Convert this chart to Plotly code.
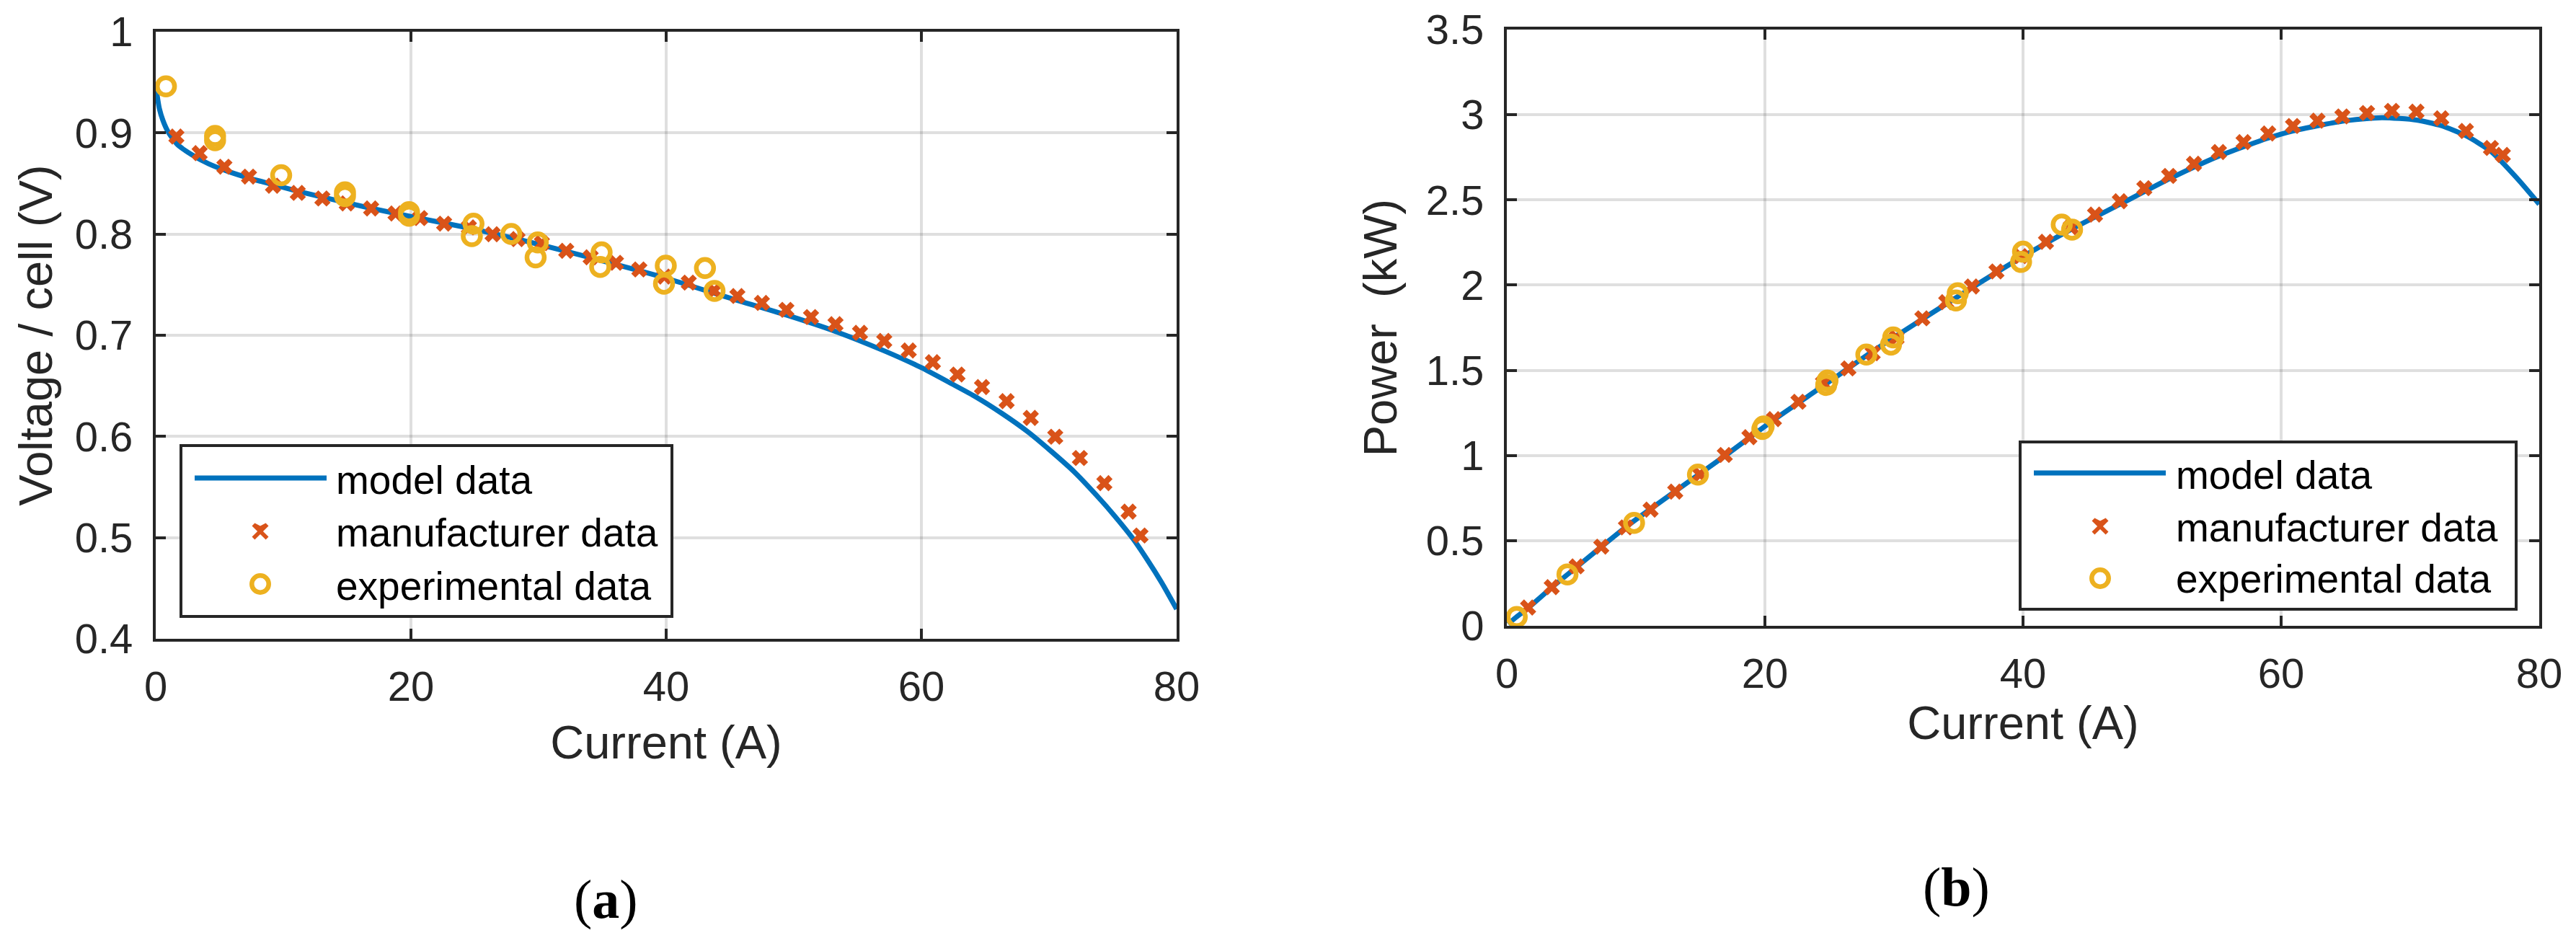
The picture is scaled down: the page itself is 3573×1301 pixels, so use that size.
"""Fuel cell polarization (a) and power (b) curves: model, manufacturer and experimental data."""

import plotly.graph_objects as go

# (a) voltage per cell
model_i_a = [0.03, 0.094, 0.28, 0.565, 0.94, 1.69, 2.82, 4.14, 5.65, 7.53, 9.42, 11.1, 13.06, 16.88, 20.72, 24.54,
             28.35, 32.17, 36.07, 39.86, 43.76, 45.58, 49.42, 53.27, 57.09, 60, 62.37, 64.26, 66.34, 68.33,
             70.13, 72.02, 73.72, 75.04, 76.56, 77.69, 78.83, 80]
model_v = [0.944, 0.9384, 0.9242, 0.9123, 0.9017, 0.8886, 0.8785, 0.8695, 0.862, 0.8545, 0.8482, 0.8425, 0.8365,
           0.8255, 0.8155, 0.806, 0.795, 0.783, 0.77, 0.757, 0.7415, 0.7345, 0.72, 0.7038, 0.6846, 0.668,
           0.6521, 0.6391, 0.6225, 0.6047, 0.5858, 0.5645, 0.5419, 0.523, 0.4993, 0.4784, 0.4555, 0.4294]
manuf_i_a = [1.62, 3.44, 5.38, 7.31, 9.19, 11.13, 13.06, 14.97, 16.88, 18.79, 20.72, 22.6, 24.54, 26.4, 28.35,
             30.26, 32.17, 34.08, 36.07, 37.9, 39.86, 41.77, 43.76, 45.58, 47.5, 49.42, 51.35, 53.27, 55.19,
             57.09, 59.01, 60.9, 62.83, 64.75, 66.68, 68.57, 70.49, 72.42, 74.34, 76.24, 77.17]
manuf_v = [0.8964, 0.88, 0.8666, 0.8568, 0.8478, 0.8407, 0.8352, 0.8303, 0.8253, 0.8203, 0.8158, 0.8103, 0.8066,
           0.7999, 0.795, 0.791, 0.7835, 0.777, 0.7716, 0.765, 0.758, 0.752, 0.744, 0.7388, 0.732, 0.7251, 0.718,
           0.711, 0.7024, 0.6944, 0.6849, 0.6734, 0.6612, 0.6488, 0.6349, 0.6183, 0.5997, 0.5787, 0.5538, 0.5257,
           0.5021]
exp_i_a = [0.8, 4.65, 4.65, 9.83, 14.83, 14.83, 19.85, 19.85, 24.9, 24.77, 27.86, 29.94, 29.77, 34.94, 34.83,
           39.97, 39.83, 43.04, 43.79]
exp_v = [0.946, 0.897, 0.8927, 0.8582, 0.8412, 0.8376, 0.8217, 0.8182, 0.8103, 0.798, 0.8001, 0.7918, 0.777,
         0.7819, 0.7676, 0.7688, 0.751, 0.7664, 0.7439]

# (b) stack power
model_i_b = [0.1, 0.63, 1.65, 3.48, 5.41, 9.23, 13.05, 16.89, 20.7, 24.7, 28.03, 29.83, 36.04, 39.82, 43.7, 47.5,
             51.32, 55.18, 59, 60.92, 64.75, 67.8, 70.49, 72.41, 74.32, 76.26, 78.25, 80]
model_p = [0.01, 0.045, 0.105, 0.225, 0.345, 0.58, 0.79, 0.997, 1.21, 1.418, 1.595, 1.685, 1.985, 2.16, 2.326, 2.474,
           2.623, 2.757, 2.863, 2.905, 2.962, 2.983, 2.969, 2.936, 2.877, 2.785, 2.63, 2.475]
manuf_i_b = [1.65, 3.48, 5.41, 7.32, 9.23, 11.14, 13.05, 14.96, 16.89, 18.8, 20.7, 22.6, 24.5, 26.47, 28.35, 30.2,
             32.2, 34.05, 36.04, 37.94, 39.82, 41.78, 43.7, 45.58, 47.5, 49.4, 51.32, 53.25, 55.18, 57.09, 59,
             60.92, 62.82, 64.75, 66.66, 68.59, 70.49, 72.41, 74.32, 76.26, 77.18]
manuf_p = [0.1073, 0.227, 0.349, 0.4647, 0.5777, 0.682, 0.788, 0.888, 1.003, 1.107, 1.213, 1.315, 1.425, 1.511, 1.6,
           1.69, 1.805, 1.9, 1.992, 2.08, 2.17, 2.254, 2.34, 2.414, 2.492, 2.569, 2.641, 2.712, 2.781, 2.839, 2.89,
           2.934, 2.965, 2.99, 3.01, 3.023, 3.018, 2.979, 2.905, 2.805, 2.764]
exp_i_b = [0.77, 4.7, 9.86, 14.81, 19.8, 19.9, 24.85, 24.75, 27.86, 29.94, 29.77, 34.94, 34.8, 40, 39.85, 43, 43.8]
exp_p = [0.052, 0.302, 0.6045, 0.888, 1.155, 1.17, 1.44, 1.414, 1.592, 1.693, 1.651, 1.952, 1.91, 2.196, 2.136,
         2.355, 2.326]

x_ticks = [0, 20, 40, 60, 80]
y_ticks_a = [0.4, 0.5, 0.6, 0.7, 0.8, 0.9, 1]
y_ticks_b = [0, 0.5, 1, 1.5, 2, 2.5, 3, 3.5]
legend_labels = ["model data", "manufacturer data", "experimental data"]

W, H = 3573, 1301
ML, MR, MT, MB = 216, 51, 41, 415
FONT = "Liberation Sans"
INK = "#262626"
BLUE, ORANGE, YELLOW = "#0072BD", "#D95319", "#EDB120"


# pixel position on the page -> paper fraction of the plot area
def px(v):
    return (v - ML) / (W - ML - MR)


def py(v):
    return 1 - (v - MT) / (H - MT - MB)


def add_series(fig, xa, ya, model, manuf, exp):
    fig.add_trace(go.Scatter(x=model[0], y=model[1], name=legend_labels[0], mode="lines", xaxis=xa, yaxis=ya,
                             line=dict(color=BLUE, width=7, shape="spline", smoothing=0.6)))
    fig.add_trace(go.Scatter(x=manuf[0], y=manuf[1], name=legend_labels[1], mode="markers", xaxis=xa, yaxis=ya,
                             cliponaxis=False, marker=dict(symbol="x", size=20, color=ORANGE, line=dict(width=0))))
    fig.add_trace(go.Scatter(x=exp[0], y=exp[1], name=legend_labels[2], mode="markers", xaxis=xa, yaxis=ya,
                             cliponaxis=False, marker=dict(symbol="circle-open", size=24, color=YELLOW,
                                                           line=dict(width=6.5, color=YELLOW))))


def axis_style(title, standoff, tick_standoff):
    return dict(
        title=dict(text=title, font=dict(family=FONT, size=65, color=INK), standoff=standoff),
        automargin=False,
        showline=True, linecolor=INK, linewidth=4, mirror="ticks",
        ticks="inside", ticklen=14, tickwidth=4, tickcolor=INK,
        tickfont=dict(family=FONT, size=58, color=INK), ticklabelstandoff=tick_standoff,
        showgrid=True, gridcolor="rgba(38,38,38,0.15)", gridwidth=4, zeroline=False,
    )


# plotly caps legend symbols at 16 px, so the key is drawn by hand to keep the real marker size
def draw_legend(fig, box, line_span, key_x, rows, text_x, text_rows):
    fig.add_shape(type="rect", xref="paper", yref="paper", x0=px(box[0]), x1=px(box[1]), y0=py(box[2]), y1=py(box[3]),
                  fillcolor="white", line=dict(color=INK, width=4), layer="above")
    fig.add_shape(type="line", xref="paper", yref="paper", x0=px(line_span[0]), x1=px(line_span[1]),
                  y0=py(rows[0]), y1=py(rows[0]), line=dict(color=BLUE, width=7), layer="above")
    arm, half = 3.9, 11.5
    cx, cy = key_x, rows[1]
    outline = [(0, -half + arm), (half - arm, -half), (half, -half + arm), (arm, 0), (half, half - arm),
               (half - arm, half), (0, arm), (arm - half, half), (-half, half - arm), (-arm, 0),
               (-half, arm - half), (arm - half, -half)]
    path = "M" + " L".join(f"{px(cx + a):.5f},{py(cy + b):.5f}" for a, b in outline) + " Z"
    fig.add_shape(type="path", xref="paper", yref="paper", path=path, fillcolor=ORANGE, line=dict(width=0),
                  layer="above")
    r = 11.75
    fig.add_shape(type="circle", xref="paper", yref="paper", x0=px(cx - r), x1=px(cx + r),
                  y0=py(rows[2] + r), y1=py(rows[2] - r), line=dict(color=YELLOW, width=6.5), layer="above")
    for label, y in zip(legend_labels, text_rows):
        fig.add_annotation(text=label, x=px(text_x), y=py(y), xref="paper", yref="paper", xanchor="left",
                           yanchor="middle", showarrow=False, font=dict(family=FONT, size=55, color="black"))


fig = go.Figure()
add_series(fig, "x", "y", (model_i_a, model_v), (manuf_i_a, manuf_v), (exp_i_a, exp_v))
add_series(fig, "x2", "y2", (model_i_b, model_p), (manuf_i_b, manuf_p), (exp_i_b, exp_p))

fig.update_layout(
    width=W, height=H,
    margin=dict(l=ML, r=MR, t=MT, b=MB),
    template="none",
    showlegend=False,
    paper_bgcolor="white", plot_bgcolor="white",
    font=dict(family=FONT),
    xaxis=dict(domain=[px(216), px(1632)], range=[0, 80], tickvals=x_ticks, anchor="y",
               **axis_style("Current (A)", 25, 12)),
    yaxis=dict(domain=[py(886), py(44)], range=[0.4, 1], tickvals=y_ticks_a, anchor="x",
               **axis_style("Voltage / cell (V)", 11, 16)),
    xaxis2=dict(domain=[px(2090), px(3522)], range=[0, 80], tickvals=x_ticks, anchor="y2",
                **axis_style("Current (A)", 16, 12)),
    yaxis2=dict(domain=[py(868), py(41)], range=[0, 3.5], tickvals=y_ticks_b, anchor="x2",
                **axis_style("Power \u00a0(kW)", 20, 16)),
    annotations=[
        dict(text="(<b>a</b>)", x=px(840), y=py(1247), xref="paper", yref="paper", xanchor="center", yanchor="middle",
             showarrow=False, font=dict(family="Liberation Serif", size=76, color="black")),
        dict(text="(<b>b</b>)", x=px(2713), y=py(1230), xref="paper", yref="paper", xanchor="center", yanchor="middle",
             showarrow=False, font=dict(family="Liberation Serif", size=76, color="black")),
    ],
)

draw_legend(fig, (251, 932, 855, 618), (270, 453), 361, (663, 737, 810), 464, (666, 739, 813))
draw_legend(fig, (2802, 3490, 845, 613), (2821, 3004), 2913, (656, 730, 802), 3016, (659, 732, 803))

fig.write_html("out.html", config={"displayModeBar": False}, post_script="document.body.style.margin='0';")
